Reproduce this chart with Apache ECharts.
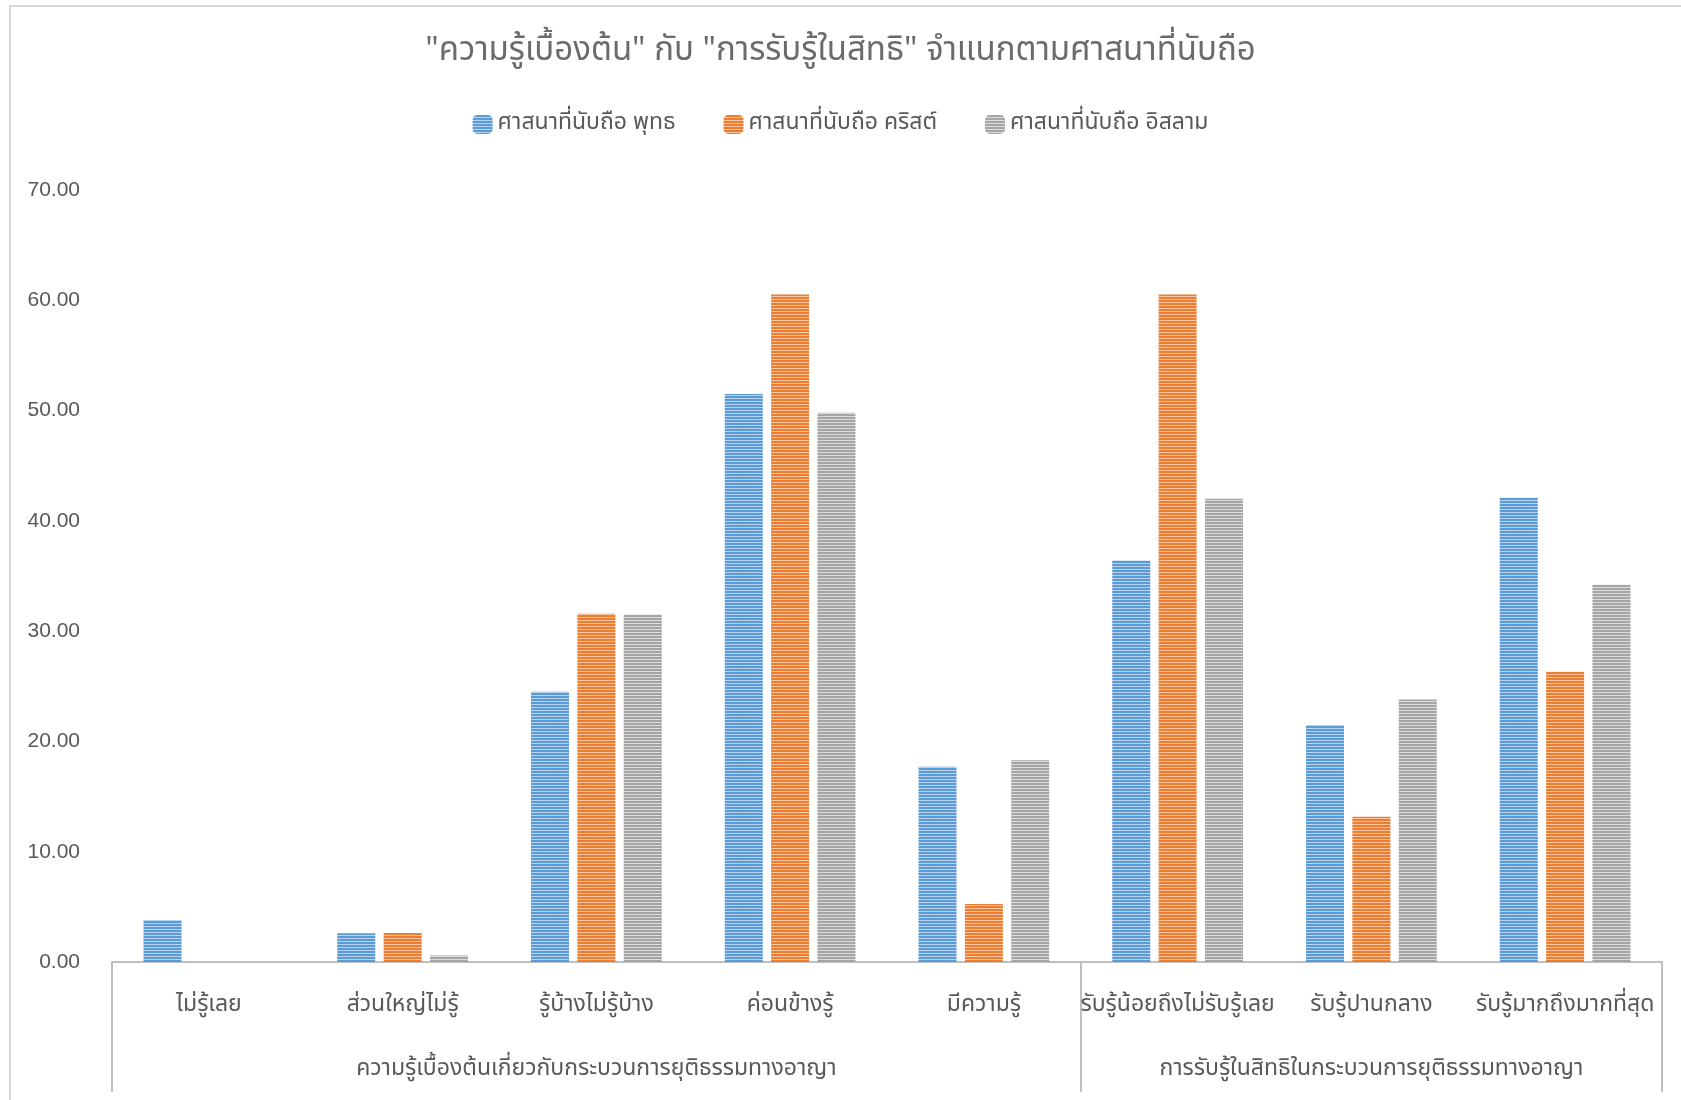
<!DOCTYPE html>
<html lang="th">
<head>
<meta charset="UTF-8">
<title>ความรู้เบื้องต้น กับ การรับรู้ในสิทธิ</title>
<script src="https://cdn.jsdelivr.net/npm/echarts@6/dist/echarts.min.js"></script>
<style>
    html, body { margin: 0; padding: 0; background: #fff; }
    #main { width: 1681px; height: 1100px; }
    /* เส้นขอบของแผนภูมิ (ซ้าย/บน) */
    #frame { position: absolute; left: 9px; top: 5px; right: 0; bottom: 0;
             border-left: 2px solid #d9d9d9; border-top: 2px solid #d9d9d9; pointer-events: none; }
</style>
</head>
<body>
<div id="main"></div>
<div id="frame"></div>
<script>
    // ข้อมูล
    const categories = ['ไม่รู้เลย', 'ส่วนใหญ่ไม่รู้', 'รู้บ้างไม่รู้บ้าง', 'ค่อนข้างรู้', 'มีความรู้',
        'รับรู้น้อยถึงไม่รับรู้เลย', 'รับรู้ปานกลาง', 'รับรู้มากถึงมากที่สุด'];
    const groupLabels = ['', '', 'ความรู้เบื้องต้นเกี่ยวกับกระบวนการยุติธรรมทางอาญา', '', '',
        '', 'การรับรู้ในสิทธิในกระบวนการยุติธรรมทางอาญา', ''];
    const groupStarts = [0, 5];
    const seriesNames = ['ศาสนาที่นับถือ พุทธ', 'ศาสนาที่นับถือ คริสต์', 'ศาสนาที่นับถือ อิสลาม'];
    const buddhist = [3.8, 2.6, 24.5, 51.5, 17.7, 36.4, 21.5, 42.1];
    const christian = [0, 2.63, 31.58, 60.53, 5.26, 60.53, 13.16, 26.32];
    const islam = [0, 0.6, 31.5, 49.8, 18.3, 42.0, 23.8, 34.2];

    const font = '"Noto Sans Thai", Tahoma, "Noto Sans", sans-serif';

    // ลายเส้นแนวนอนของแท่ง
    function stripes(base, light) {
        let c = document.createElement('canvas');
        c.width = 4; c.height = 3;
        let ctx = c.getContext('2d');
        ctx.fillStyle = base; ctx.fillRect(0, 0, 4, 2);
        ctx.fillStyle = light; ctx.fillRect(0, 2, 4, 1);
        return { image: c, repeat: 'repeat' };
    }
    const fills = [
        stripes('#5b9bd5', '#b9d3ee'),
        stripes('#ed7d31', '#f8c4a0'),
        stripes('#a5a5a5', '#dcdcdc')
    ];
    const values = [buddhist, christian, islam];

    let myChart = echarts.init(document.getElementById('main'));
    let option = {
        backgroundColor: '#fff',
        title: {
            text: '"ความรู้เบื้องต้น" กับ "การรับรู้ในสิทธิ" จำแนกตามศาสนาที่นับถือ',
            left: 'center',
            top: 32,
            textStyle: { fontFamily: font, fontSize: 33, fontWeight: 'normal', color: '#6b6b6b' }
        },
        legend: {
            top: 108,
            left: 'center',
            itemWidth: 20,
            itemHeight: 19,
            itemGap: 48,
            textStyle: { fontFamily: font, fontSize: 23, color: '#595959' },
            data: seriesNames.map((n, i) => ({ name: n, itemStyle: { color: fills[i] } }))
        },
        grid: { left: 112, right: 19, top: 190, bottom: 138 },
        xAxis: [
            {
                type: 'category',
                data: categories,
                axisLine: { lineStyle: { color: '#bfbfbf', width: 2 } },
                axisTick: { show: false },
                axisLabel: { interval: 0, margin: 33, fontFamily: font, fontSize: 23, color: '#595959' }
            },
            {
                type: 'category',
                position: 'bottom',
                data: groupLabels,
                axisLine: { show: false },
                axisTick: {
                    show: true,
                    length: 130,
                    interval: (idx) => groupStarts.indexOf(idx) >= 0,
                    lineStyle: { color: '#bfbfbf', width: 2 }
                },
                axisLabel: { interval: 0, margin: 97, fontFamily: font, fontSize: 23, color: '#595959' }
            }
        ],
        yAxis: {
            type: 'value',
            min: 0,
            max: 70,
            interval: 10,
            axisLine: { show: false },
            axisTick: { show: false },
            splitLine: { show: false },
            axisLabel: {
                margin: 32,
                fontFamily: '"Liberation Sans", Arial, sans-serif',
                fontSize: 21,
                color: '#595959',
                formatter: v => v.toFixed(2)
            }
        },
        series: seriesNames.map((n, i) => ({
            name: n,
            type: 'bar',
            xAxisIndex: 0,
            barWidth: 38,
            barGap: '22%',
            data: values[i],
            itemStyle: { color: fills[i] }
        }))
    };
    myChart.setOption(option);
</script>
</body>
</html>
